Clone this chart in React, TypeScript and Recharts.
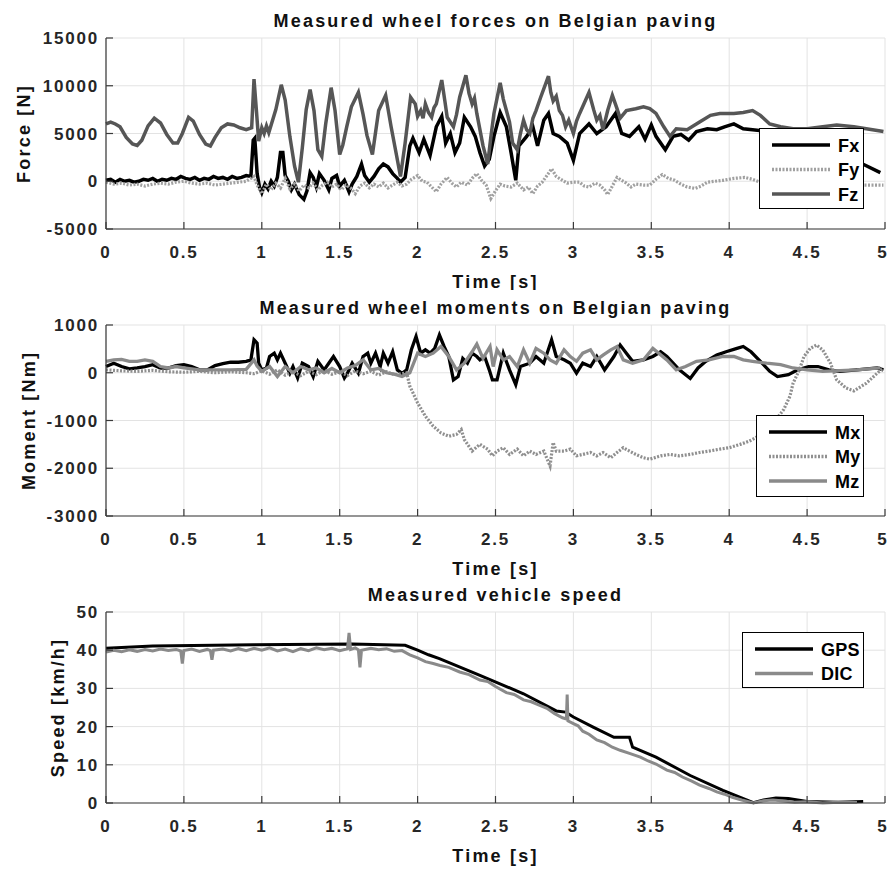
import React from "react";
import { LineChart, Line, XAxis, YAxis, CartesianGrid, Legend } from "recharts";

const FONT = '"Liberation Sans", Arial, Helvetica, sans-serif';

const timeTicks = [0, 0.5, 1, 1.5, 2, 2.5, 3, 3.5, 4, 4.5, 5];
const forceTicks = [-5000, 0, 5000, 10000, 15000];
const momentTicks = [-3000, -2000, -1000, 0, 1000];
const speedTicks = [0, 10, 20, 30, 40, 50];

// [time s, force N]
const fxTrace: [number, number][] = [
  [0, 100], [0.03, 200], [0.06, -100], [0.09, 200], [0.12, 0], [0.15, 100], [0.18, -100], [0.21, 0],
  [0.24, 200], [0.27, 100], [0.3, 300], [0.33, 0], [0.36, 200], [0.39, 100], [0.42, 300], [0.45, 200],
  [0.48, 500], [0.51, 300], [0.54, 200], [0.57, 400], [0.6, 100], [0.63, 300], [0.66, 200], [0.69, 500],
  [0.72, 300], [0.75, 400], [0.78, 200], [0.81, 500], [0.84, 300], [0.87, 400], [0.9, 600], [0.93, 500],
  [0.945, 4300], [0.955, 4500], [0.97, 800], [0.985, -600], [1.0, -1200], [1.02, -300], [1.04, -800],
  [1.06, 0], [1.08, -500], [1.1, 400], [1.12, 3000], [1.135, 3000], [1.15, 600], [1.17, 0], [1.19, -900],
  [1.21, -300], [1.24, -1400], [1.27, -1900], [1.29, -1000], [1.31, 900], [1.33, 400], [1.35, -600],
  [1.37, 800], [1.4, 100], [1.43, -900], [1.45, 300], [1.48, 600], [1.5, -500], [1.53, 100], [1.56, -1100],
  [1.58, -300], [1.61, 500], [1.64, 1800], [1.66, 600], [1.69, -100], [1.72, 500], [1.75, 1300],
  [1.78, 1800], [1.81, 1500], [1.84, 800], [1.87, 300], [1.89, -100], [1.92, 400], [1.95, 3700],
  [1.97, 4500], [2.01, 3000], [2.04, 4400], [2.08, 2700], [2.12, 5700], [2.155, 6800], [2.18, 4000],
  [2.21, 5000], [2.24, 3000], [2.27, 4000], [2.3, 6700], [2.34, 5700], [2.37, 4700], [2.4, 3000],
  [2.43, 1600], [2.46, 2300], [2.49, 4700], [2.53, 7200], [2.57, 5700], [2.6, 3000], [2.63, 100],
  [2.65, 3700], [2.7, 4700], [2.74, 5700], [2.77, 3700], [2.81, 6400], [2.84, 7100], [2.87, 5000],
  [2.91, 4700], [2.96, 4000], [3.0, 2200], [3.04, 5000], [3.1, 6000], [3.15, 5000], [3.21, 5700],
  [3.27, 7100], [3.31, 5000], [3.36, 4700], [3.42, 5700], [3.46, 4400], [3.5, 5900], [3.53, 4700],
  [3.59, 3300], [3.64, 4700], [3.69, 4900], [3.74, 4300], [3.79, 5200], [3.86, 5500], [3.92, 5400],
  [3.97, 5700], [4.03, 6000], [4.09, 5500], [4.15, 5400], [4.25, 5200], [4.4, 4800], [4.6, 3800],
  [4.75, 2600], [4.87, 1700], [4.97, 900],
];

const fyTrace: [number, number][] = [
  [0, -100], [0.05, -300], [0.1, -200], [0.15, -400], [0.2, -300], [0.25, -500], [0.3, -300], [0.35, -200],
  [0.4, -300], [0.45, -100], [0.5, 0], [0.55, -200], [0.6, -300], [0.65, -200], [0.7, -400], [0.75, -300],
  [0.8, -200], [0.85, -100], [0.9, 0], [0.95, 500], [0.97, -400], [1.0, -1300], [1.03, -300], [1.06, -900],
  [1.09, -200], [1.12, -700], [1.15, 300], [1.18, -800], [1.21, -300], [1.24, -1000], [1.27, -400],
  [1.3, -700], [1.33, -200], [1.36, -900], [1.39, -400], [1.42, -100], [1.45, -600], [1.48, -300],
  [1.51, -900], [1.54, -400], [1.57, -700], [1.6, -1300], [1.63, -500], [1.66, -200], [1.69, -700],
  [1.72, -300], [1.75, -600], [1.78, -200], [1.81, -700], [1.84, -400], [1.87, -100], [1.9, -500],
  [1.93, -300], [1.96, 200], [2.0, 600], [2.03, 0], [2.06, -100], [2.09, -600], [2.12, -1100], [2.15, -300],
  [2.19, 400], [2.22, -200], [2.25, -600], [2.28, -100], [2.32, -400], [2.35, 300], [2.38, 800], [2.41, 100],
  [2.44, -400], [2.47, -1800], [2.5, -1000], [2.53, -300], [2.56, -500], [2.6, -600], [2.64, -200],
  [2.68, -900], [2.71, -600], [2.74, -1300], [2.77, -500], [2.8, -100], [2.83, 600], [2.86, 1300],
  [2.89, 500], [2.92, 200], [2.96, -200], [3.0, -100], [3.04, -100], [3.07, -500], [3.1, -600], [3.14, -200],
  [3.17, -400], [3.2, -900], [3.22, -1400], [3.25, -500], [3.28, 400], [3.31, 100], [3.34, -200],
  [3.37, -600], [3.4, -300], [3.45, -400], [3.49, -400], [3.53, 200], [3.57, 700], [3.61, 300], [3.65, 100],
  [3.69, -300], [3.73, -600], [3.78, -750], [3.82, -500], [3.86, -100], [3.91, 0], [3.96, 100], [4.03, 300],
  [4.1, 400], [4.15, 200], [4.2, -100], [4.3, -200], [4.5, -300], [4.7, -400], [4.88, -400], [4.99, -400],
];

const fzTrace: [number, number][] = [
  [0, 6000], [0.03, 6200], [0.06, 6000], [0.09, 5700], [0.13, 4600], [0.17, 3900], [0.2, 3750], [0.23, 4300],
  [0.27, 5800], [0.31, 6600], [0.35, 6100], [0.39, 4900], [0.43, 4000], [0.46, 4000], [0.49, 5000],
  [0.53, 6700], [0.56, 6300], [0.6, 4900], [0.64, 3900], [0.67, 3700], [0.7, 4600], [0.74, 5600],
  [0.78, 6000], [0.82, 5900], [0.86, 5600], [0.9, 5400], [0.935, 5600], [0.95, 10700], [0.965, 7500],
  [0.98, 4200], [1.0, 5600], [1.015, 5000], [1.03, 5800], [1.045, 5100], [1.06, 5900], [1.09, 7500],
  [1.125, 10100], [1.15, 8500], [1.18, 4700], [1.21, 1600], [1.235, -100], [1.26, 3500], [1.285, 7500],
  [1.31, 9600], [1.335, 7400], [1.36, 3300], [1.385, 2600], [1.41, 6000], [1.445, 9800], [1.47, 7400],
  [1.5, 2800], [1.52, 3800], [1.545, 5700], [1.575, 7800], [1.62, 9300], [1.65, 7000], [1.675, 4800],
  [1.71, 2800], [1.75, 7400], [1.795, 9000], [1.83, 5700], [1.865, 2700], [1.89, 500], [1.92, 4000],
  [1.955, 8800], [1.985, 8100], [2.0, 6800], [2.02, 7400], [2.035, 6600], [2.05, 8100], [2.07, 7200],
  [2.09, 6700], [2.105, 7700], [2.12, 8100], [2.155, 10600], [2.175, 8400], [2.19, 6700], [2.21, 6200],
  [2.23, 5700], [2.25, 7000], [2.27, 8800], [2.31, 11100], [2.33, 9200], [2.35, 8100], [2.365, 8700],
  [2.38, 7100], [2.42, 3700], [2.45, 1800], [2.47, 4600], [2.49, 7100], [2.53, 10300], [2.55, 8600],
  [2.57, 7400], [2.59, 6200], [2.61, 4000], [2.64, 3300], [2.66, 5000], [2.68, 6400], [2.7, 5400],
  [2.72, 5000], [2.74, 6600], [2.76, 7400], [2.79, 8800], [2.84, 11000], [2.855, 9300], [2.87, 8400],
  [2.89, 8900], [2.91, 7400], [2.93, 6900], [2.95, 5700], [2.97, 6400], [3.0, 5000], [3.02, 6300],
  [3.04, 7100], [3.07, 8200], [3.1, 9300], [3.13, 7500], [3.15, 6400], [3.17, 6900], [3.19, 5400],
  [3.22, 7400], [3.25, 9000], [3.28, 7600], [3.3, 6600], [3.34, 7400], [3.4, 7600], [3.45, 7800],
  [3.49, 7600], [3.53, 7100], [3.58, 5700], [3.62, 4700], [3.66, 5500], [3.73, 5400], [3.81, 6200],
  [3.88, 6900], [3.94, 7100], [4.03, 7100], [4.09, 7200], [4.15, 7400], [4.2, 6900], [4.26, 6000],
  [4.33, 5700], [4.41, 5500], [4.5, 5500], [4.6, 5700], [4.69, 5900], [4.8, 5700], [4.92, 5400],
  [4.99, 5200],
];

// [time s, moment Nm], middle panel
const mxTrace: [number, number][] = [
  [0, 130], [0.05, 200], [0.1, 130], [0.15, 80], [0.2, 100], [0.25, 130], [0.3, 170], [0.35, 100], [0.4, 100],
  [0.45, 150], [0.5, 170], [0.55, 130], [0.6, 60], [0.65, 60], [0.7, 150], [0.75, 190], [0.8, 220],
  [0.85, 220], [0.9, 240], [0.93, 270], [0.95, 690], [0.97, 620], [0.98, 200], [1.0, 60], [1.03, 100],
  [1.05, 340], [1.08, 410], [1.1, 270], [1.12, 410], [1.15, 200], [1.18, -10], [1.2, 130], [1.23, -110],
  [1.26, 200], [1.3, 130], [1.33, -80], [1.36, 240], [1.4, 60], [1.43, 200], [1.46, 340], [1.5, 130],
  [1.53, -110], [1.55, -10], [1.58, 200], [1.62, -10], [1.65, 340], [1.68, 410], [1.7, 200], [1.73, 410],
  [1.76, 130], [1.78, 410], [1.81, 200], [1.84, 440], [1.87, 60], [1.9, -10], [1.93, 60], [1.96, 480],
  [1.99, 760], [2.02, 410], [2.05, 480], [2.08, 410], [2.11, 510], [2.14, 790], [2.17, 550], [2.2, 340],
  [2.23, -150], [2.26, -80], [2.29, 300], [2.32, 200], [2.35, 410], [2.38, 340], [2.4, 270], [2.43, 340],
  [2.46, 60], [2.48, -150], [2.51, -150], [2.55, 410], [2.59, 60], [2.63, -250], [2.66, 130], [2.72, 200],
  [2.76, 340], [2.81, 200], [2.86, 690], [2.89, 340], [2.94, 270], [2.98, 200], [3.02, -10], [3.06, 200],
  [3.11, 130], [3.15, 340], [3.2, 60], [3.26, 340], [3.3, 580], [3.34, 410], [3.38, 240], [3.45, 270],
  [3.51, 340], [3.56, 440], [3.6, 340], [3.64, 200], [3.68, 60], [3.75, -120], [3.8, 100], [3.85, 240],
  [3.92, 370], [3.98, 440], [4.05, 510], [4.09, 550], [4.14, 440], [4.2, 240], [4.26, 30], [4.31, -80],
  [4.38, -40], [4.44, 60], [4.51, 130], [4.57, 130], [4.64, 60], [4.71, 30], [4.82, 60], [4.95, 100],
  [4.99, 60],
];

const myTrace: [number, number][] = [
  [0, 60], [0.1, 40], [0.2, 30], [0.3, 50], [0.4, 20], [0.5, 10], [0.6, 30], [0.7, 0], [0.8, 20], [0.9, 0],
  [0.95, -20], [1.0, 40], [1.05, -30], [1.1, 60], [1.15, -50], [1.2, 20], [1.25, -60], [1.3, 30], [1.35, -40],
  [1.4, 50], [1.45, -30], [1.5, 20], [1.55, -60], [1.6, 40], [1.65, -20], [1.7, 30], [1.75, -50], [1.8, 20],
  [1.85, -40], [1.9, -20], [1.93, 0], [1.95, -280], [2.0, -630], [2.05, -910], [2.1, -1120], [2.15, -1260],
  [2.2, -1330], [2.25, -1290], [2.28, -1190], [2.3, -1400], [2.35, -1640], [2.4, -1500], [2.45, -1600],
  [2.48, -1740], [2.51, -1640], [2.55, -1570], [2.59, -1710], [2.64, -1600], [2.68, -1740], [2.72, -1640],
  [2.76, -1710], [2.81, -1640], [2.85, -1950], [2.87, -1460], [2.89, -1640], [2.94, -1640], [2.98, -1600],
  [3.02, -1740], [3.06, -1710], [3.11, -1670], [3.15, -1740], [3.19, -1670], [3.24, -1780], [3.28, -1670],
  [3.32, -1570], [3.36, -1640], [3.4, -1710], [3.45, -1780], [3.49, -1810], [3.56, -1740], [3.62, -1710],
  [3.68, -1740], [3.75, -1710], [3.81, -1670], [3.87, -1640], [3.94, -1600], [4.0, -1570], [4.07, -1500],
  [4.13, -1430], [4.17, -1360], [4.24, -1190], [4.3, -980], [4.35, -770], [4.39, -490], [4.41, -220],
  [4.45, 60], [4.48, 340], [4.52, 510], [4.56, 580], [4.6, 480], [4.65, 200], [4.69, -150], [4.75, -320],
  [4.8, -380], [4.88, -220], [4.95, -10], [4.99, 100],
];

const mzTrace: [number, number][] = [
  [0, 240], [0.05, 270], [0.1, 280], [0.15, 240], [0.2, 240], [0.25, 270], [0.3, 240], [0.35, 130],
  [0.4, 100], [0.45, 130], [0.5, 100], [0.6, 60], [0.7, 60], [0.8, 60], [0.9, 70], [0.95, 270], [0.97, 140],
  [1.0, 30], [1.05, 130], [1.1, -80], [1.15, 130], [1.2, 0], [1.25, 130], [1.3, 60], [1.35, 100], [1.4, 0],
  [1.45, 90], [1.5, 0], [1.55, 100], [1.6, 150], [1.65, 270], [1.7, 60], [1.75, 90], [1.8, 0], [1.85, -30],
  [1.9, -80], [1.95, 0], [2.0, 410], [2.05, 340], [2.1, 410], [2.15, 550], [2.2, 340], [2.25, 60],
  [2.3, 200], [2.35, 440], [2.38, 600], [2.42, 300], [2.465, 550], [2.485, 130], [2.51, 480], [2.55, 270],
  [2.59, 340], [2.64, 130], [2.68, 480], [2.72, 200], [2.76, 510], [2.81, 410], [2.85, 270], [2.89, 200],
  [2.94, 480], [2.98, 340], [3.02, 240], [3.06, 410], [3.11, 480], [3.15, 270], [3.19, 370], [3.24, 480],
  [3.28, 550], [3.32, 270], [3.38, 200], [3.45, 270], [3.51, 510], [3.6, 270], [3.66, 60], [3.72, 130],
  [3.79, 240], [3.87, 270], [3.96, 340], [4.03, 340], [4.09, 270], [4.15, 240], [4.24, 200], [4.33, 170],
  [4.41, 100], [4.5, 60], [4.6, 30], [4.82, 60], [4.97, 100],
];

// [time s, speed km/h], bottom panel
const gpsTrace: [number, number][] = [
  [0, 40.5], [0.3, 41.1], [0.95, 41.4], [1.58, 41.6], [1.92, 41.3], [2.0, 40.0], [2.07, 38.8], [2.14, 37.8],
  [2.4, 33.4], [2.68, 28.6], [2.89, 24.1], [2.95, 23.8], [3.0, 22.5], [3.13, 19.8], [3.26, 17.2],
  [3.36, 17.2], [3.38, 14.6], [3.53, 12.0], [3.75, 7.2], [3.96, 3.3], [4.155, 0.1], [4.22, 0.8],
  [4.3, 1.3], [4.38, 1.2], [4.5, 0.4], [4.7, 0.2], [4.86, 0.4],
];

const dicTrace: [number, number][] = [
  [0, 39.5], [0.05, 40], [0.1, 39.6], [0.15, 40.1], [0.2, 39.7], [0.25, 40.2], [0.3, 39.8], [0.35, 40.3],
  [0.4, 39.9], [0.45, 40.2], [0.48, 39.8], [0.49, 36.5], [0.5, 39.9], [0.55, 40.3], [0.6, 39.7], [0.65, 40.2],
  [0.67, 39.9], [0.68, 37.5], [0.69, 40.0], [0.75, 40.3], [0.8, 39.8], [0.85, 40.4], [0.9, 39.9], [0.95, 40.5],
  [1.0, 40.0], [1.05, 40.6], [1.1, 39.8], [1.15, 40.3], [1.2, 39.6], [1.25, 40.4], [1.3, 39.9], [1.35, 40.6],
  [1.4, 40.1], [1.45, 40.5], [1.5, 39.9], [1.55, 40.4], [1.56, 44.5], [1.57, 40.2], [1.6, 40.6], [1.62, 40.1],
  [1.63, 35.5], [1.64, 40.0], [1.7, 40.5], [1.75, 40.1], [1.8, 40.4], [1.85, 39.7], [1.9, 39.9], [1.95, 38.8],
  [2.0, 38.0], [2.05, 37.0], [2.1, 36.5], [2.144, 36.0], [2.2, 35.5], [2.27, 34.3], [2.33, 33.6], [2.4, 32.2],
  [2.45, 31.8], [2.5, 30.5], [2.57, 28.9], [2.62, 28.4], [2.68, 27.0], [2.73, 26.5], [2.78, 25.6],
  [2.83, 24.8], [2.88, 23.4], [2.93, 22.3], [2.955, 22.0], [2.96, 28.4], [2.965, 21.5], [3.0, 20.8],
  [3.03, 20.2], [3.06, 18.8], [3.1, 18.0], [3.15, 16.5], [3.2, 15.8], [3.25, 14.6], [3.3, 13.8], [3.36, 13.0],
  [3.43, 12.0], [3.48, 11.0], [3.53, 10.2], [3.6, 8.6], [3.65, 8.0], [3.7, 6.8], [3.76, 5.7], [3.81, 4.7],
  [3.87, 3.8], [3.92, 2.9], [3.97, 2.3], [4.02, 1.5], [4.08, 0.8], [4.155, 0], [4.22, 0.6], [4.28, 0.8],
  [4.35, 0.5], [4.42, 0.2], [4.5, 0.3], [4.6, 0.0], [4.7, 0.2], [4.82, 0.1],
];

const toRows = (trace: [number, number][]) => trace.map(([t, v]) => ({ t, v }));

type Series = { name: string; trace: [number, number][]; color: string; width: number; dash?: string };

const forceSeries: Series[] = [
  { name: "Fx", trace: fxTrace, color: "#000000", width: 3.5 },
  { name: "Fy", trace: fyTrace, color: "#a0a0a0", width: 3.2, dash: "2 1.5" },
  { name: "Fz", trace: fzTrace, color: "#565656", width: 3.5 },
];
const momentSeries: Series[] = [
  { name: "Mx", trace: mxTrace, color: "#000000", width: 3.3 },
  { name: "My", trace: myTrace, color: "#8f8f8f", width: 3.2, dash: "2 1.5" },
  { name: "Mz", trace: mzTrace, color: "#8a8a8a", width: 3.3 },
];
const speedSeries: Series[] = [
  { name: "GPS", trace: gpsTrace, color: "#000000", width: 3 },
  { name: "DIC", trace: dicTrace, color: "#8a8a8a", width: 3 },
];

type VB = { x: number; y: number; width: number; height: number };

function XTexts(props: any) {
  const vb: VB | undefined = props.viewBox;
  if (!vb) return null;
  const cx = vb.x + vb.width / 2;
  return (
    <g>
      <text x={cx} y={vb.y + 52 + 6.5} textAnchor="middle" className="lbl">Time [s]</text>
      <text x={cx} y={props.plotTop - 18 + 6.5} textAnchor="middle" className="ttl">{props.title}</text>
    </g>
  );
}

function YText(props: any) {
  const vb: VB | undefined = props.viewBox;
  if (!vb) return null;
  const cy = vb.y + vb.height / 2;
  return (
    <text transform={`translate(${props.cx},${cy}) rotate(-90)`} textAnchor="middle" dy={6.5} className="lbl">
      {props.text}
    </text>
  );
}

function LegendBox(props: any) {
  const order: string[] = props.order;
  const items = [...(props.payload || [])].sort(
    (a: any, b: any) => order.indexOf(a.value) - order.indexOf(b.value)
  );
  return (
    <div style={{ width: props.w, height: props.h, background: "#fff", border: "1px solid #000", boxSizing: "border-box" }}>
      <svg width={props.w - 2} height={props.h - 2} style={{ display: "block" }}>
        {items.map((it: any, i: number) => {
          const y = 16 + i * 24.5;
          return (
            <g key={it.value}>
              <line x1={12} x2={70} y1={y} y2={y} stroke={it.color} strokeWidth={3.5}
                strokeDasharray={it.payload?.strokeDasharray} />
              <text x={78} y={y + 6.5} className="leg">{it.value}</text>
            </g>
          );
        })}
      </svg>
    </div>
  );
}

type PanelProps = {
  top: number; height: number; plotTop: number; title: string; yLabel: string; yLabelX: number;
  domain: [number, number]; yTicks: number[]; series: Series[];
  legend: { left: number; top: number; w: number; h: number };
};

function Panel(p: PanelProps) {
  const axisHeight = p.height - p.plotTop - 191;
  const order = p.series.map((s) => s.name);
  return (
    <div style={{ position: "absolute", left: 0, top: p.top, width: 888, height: p.height }}>
      <LineChart width={888} height={p.height} margin={{ top: p.plotTop, right: 3, bottom: 0, left: 0 }}>
        <CartesianGrid stroke="#e3e3e3" strokeWidth={1} />
        <XAxis
          type="number" dataKey="t" domain={[0, 5]} ticks={timeTicks} height={axisHeight}
          axisLine={{ stroke: "#3a3a3a", strokeWidth: 1.2 }} tickLine={{ stroke: "#3a3a3a", strokeWidth: 1.2 }}
          tickSize={-7} tickMargin={24} tick={{ fill: "#262626" }}
          label={<XTexts title={p.title} plotTop={p.plotTop} />}
        />
        <YAxis
          type="number" domain={p.domain} ticks={p.yTicks} width={106} interval={0}
          axisLine={{ stroke: "#3a3a3a", strokeWidth: 1.2 }} tickLine={{ stroke: "#3a3a3a", strokeWidth: 1.2 }}
          tickSize={-7} tickMargin={14} tick={{ fill: "#262626" }}
          label={<YText text={p.yLabel} cx={p.yLabelX} />}
        />
        {p.series.map((s) => (
          <Line
            key={s.name} name={s.name} data={toRows(s.trace)} dataKey="v" type="linear"
            stroke={s.color} strokeWidth={s.width} strokeDasharray={s.dash}
            dot={false} activeDot={false} isAnimationActive={false}
          />
        ))}
        <Legend
          layout="vertical" align="center" verticalAlign="middle"
          wrapperStyle={{ left: p.legend.left, top: p.legend.top, width: p.legend.w, height: p.legend.h }}
          content={(lp: any) => <LegendBox {...lp} order={order} w={p.legend.w} h={p.legend.h} />}
        />
      </LineChart>
    </div>
  );
}

export default function App() {
  return (
    <div style={{ position: "absolute", left: 0, top: 0, width: 888, height: 869, background: "#fff", fontFamily: FONT, fontWeight: 700 }}>
      <style>{`
        .recharts-cartesian-axis-tick-value { font-size: 17px; font-weight: 700; letter-spacing: 1.8px; font-family: ${FONT}; }
        .lbl { font-size: 18px; font-weight: 700; letter-spacing: 2.2px; fill: #111; font-family: ${FONT}; }
        .ttl { font-size: 18px; font-weight: 700; letter-spacing: 2.2px; fill: #111; font-family: ${FONT}; }
        .leg { font-size: 18px; font-weight: 700; letter-spacing: 0.2px; fill: #000; font-family: ${FONT}; }
      `}</style>
      <Panel top={0} height={290} plotTop={38} title="Measured wheel forces on Belgian paving"
        yLabel="Force [N]" yLabelX={23} domain={[-5000, 15000]} yTicks={forceTicks} series={forceSeries}
        legend={{ left: 759, top: 128, w: 105, h: 81 }} />
      <Panel top={290} height={290} plotTop={35} title="Measured wheel moments on Belgian paving"
        yLabel="Moment [Nm]" yLabelX={28} domain={[-3000, 1000]} yTicks={momentTicks} series={momentSeries}
        legend={{ left: 756, top: 125, w: 108, h: 82 }} />
      <Panel top={580} height={289} plotTop={32} title="Measured vehicle speed"
        yLabel="Speed [km/h]" yLabelX={57} domain={[0, 50]} yTicks={speedTicks} series={speedSeries}
        legend={{ left: 742, top: 52, w: 122, h: 56 }} />
    </div>
  );
}
